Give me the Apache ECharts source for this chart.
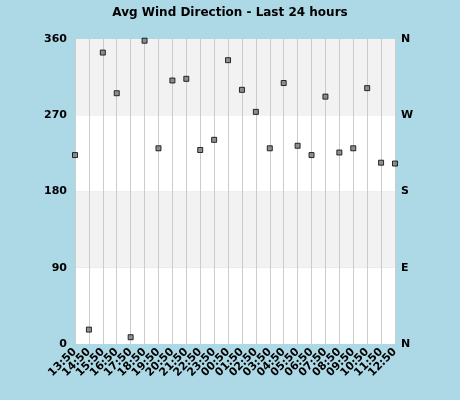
<!DOCTYPE html><html><head><meta charset="utf-8"><script src="https://cdn.jsdelivr.net/npm/echarts@6/dist/echarts.min.js"></script></head>
<body style="margin:0;background:#add8e6"><div id="c" style="width:460px;height:400px"></div>
<script>
const categories=["13:50","14:50","15:50","16:50","17:50","18:50","19:50","20:50","21:50","22:50","23:50","00:50","01:50","02:50","03:50","04:50","05:50","06:50","07:50","08:50","09:50","10:50","11:50","12:50"];
const direction=[223,17,344,296,8,358,231,311,313,229,241,335,300,274,231,308,234,223,292,226,231,302,214,213];
const leftTicks=[0,90,180,270,360];
const rightTicks={0:"N",90:"E",180:"S",270:"W",360:"N"};
const ch=echarts.init(document.getElementById('c'));
const lbl={fontFamily:'DejaVu Sans',fontSize:11,fontWeight:'bold',color:'#000'};
ch.setOption({
 backgroundColor:'#add8e6',
 title:{text:'Avg Wind Direction - Last 24 hours',left:'center',top:2,textStyle:{fontFamily:'DejaVu Sans',fontSize:12,fontWeight:'bold',color:'#000'}},
 grid:{left:75,right:65,top:39,bottom:56},
 xAxis:{type:'category',data:categories,boundaryGap:false,axisLine:{show:false},axisTick:{show:false},
  axisLabel:Object.assign({rotate:45,interval:0,margin:6},lbl),
  splitLine:{show:true,lineStyle:{color:'#cccccc',width:1}}},
 yAxis:[{type:'value',min:0,max:360,interval:90,axisLine:{show:false},axisTick:{show:false},
   axisLabel:Object.assign({margin:8},lbl),splitLine:{show:false},
   splitArea:{show:true,areaStyle:{color:['#ffffff','#f2f2f2']}}},
  {type:'value',min:0,max:360,interval:90,position:'right',axisLine:{show:false},axisTick:{show:false},
   axisLabel:Object.assign({margin:6,formatter:v=>rightTicks[v]},lbl),splitLine:{show:false}}],
 series:[{type:'scatter',data:direction,symbol:'rect',symbolSize:5,
  itemStyle:{color:'#777777',borderColor:'#000',borderWidth:1},clip:false}]
});
</script></body></html>
